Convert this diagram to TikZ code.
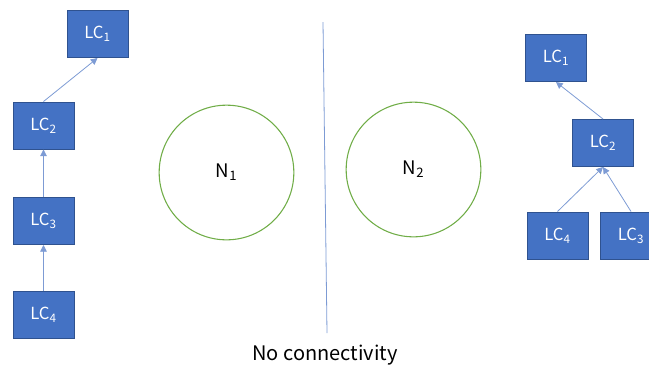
\documentclass[tikz,border=0pt]{standalone}
\usepackage{fontspec}
\setmainfont{Noto Sans CJK SC}
\usetikzlibrary{arrows.meta}

\definecolor{lcBlue}{RGB}{68,114,196}
\definecolor{lcEdge}{RGB}{47,82,143}
\definecolor{lcLine}{RGB}{125,155,212}
\definecolor{netGreen}{RGB}{112,173,71}

\tikzset{
  lcbox/.style={draw=lcEdge, fill=lcBlue, line width=0.75pt, text=white,
    minimum width=45.75pt, minimum height=35.25pt, inner sep=0pt,
    font=\fontsize{12.5}{15}\selectfont},
  netcirc/.style={circle, draw=netGreen, line width=0.8pt, fill=white,
    minimum size=101pt, inner sep=0pt, font=\fontsize{14}{17}\selectfont},
  link/.style={draw=lcLine, line width=0.6pt, -{Triangle[length=5pt,width=5pt]}}
}

\begin{document}
\begin{tikzpicture}[x=0.75pt, y=-0.75pt]
\clip (0,0) rectangle (649,369);
%% Left: a chain of local controllers
\node[lcbox] (la) at (97.5,34)   {LC\textsubscript{1}};
\node[lcbox] (lb) at (43.5,125.5) {LC\textsubscript{2}};
\node[lcbox] (lc) at (43.5,221)  {LC\textsubscript{3}};
\node[lcbox] (ld) at (43.5,314.5) {LC\textsubscript{4}};
\draw[link] (lb.north) -- (la.south);
\draw[link] (lc.north) -- (lb.south);
\draw[link] (ld.north) -- (lc.south);
%% The two networks, split by a line
\node[netcirc] (n1) at (226.5,172.5) {N\textsubscript{1}};
\node[netcirc] (n2) at (413.5,169.5) {N\textsubscript{2}};
\coordinate (cuttop) at (323,22);
\coordinate (cutbot) at (327,333);
\draw[lcLine, line width=0.6pt] (cuttop) -- (cutbot);
\node[font=\fontsize{15}{18}\selectfont] (cap) at (325,355) {No connectivity};
%% Right: a tree of local controllers
\node[lcbox] (ra) at (556,58)    {LC\textsubscript{1}};
\node[lcbox] (rb) at (603,143)   {LC\textsubscript{2}};
\node[lcbox] (rd) at (557.5,235.5) {LC\textsubscript{4}};
\node[lcbox] (rc) at (631,235.5) {LC\textsubscript{3}};
\draw[link] (rb.north) -- (ra.south);
\draw[link] (rd.north) -- (rb.south);
\draw[link] (rc.north) -- (rb.south);
\end{tikzpicture}
\end{document}
